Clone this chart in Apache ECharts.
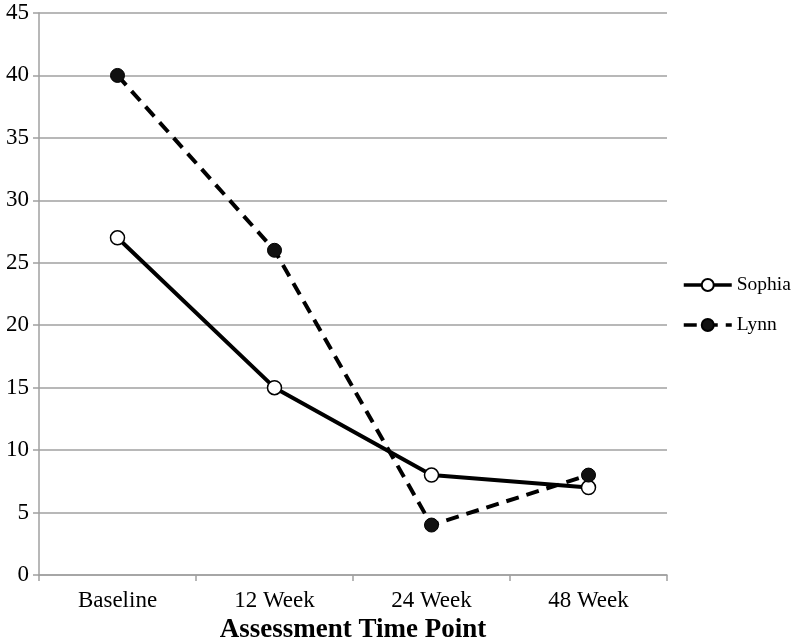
<!DOCTYPE html>
<html><head><meta charset="utf-8">
<script src="https://cdn.jsdelivr.net/npm/echarts@6/dist/echarts.min.js"></script>
<style>html,body{margin:0;padding:0;background:#fff}#c{width:795px;height:642px}</style>
</head><body><div id="c"></div>
<script>
var categories = ['Baseline', '12 Week', '24 Week', '48 Week'];
var sophia = [27, 15, 8, 7];
var lynn = [40, 26, 4, 8];
var yTicks = {min: 0, max: 45, interval: 5};

var chart = echarts.init(document.getElementById('c'));
var font = '"Liberation Serif", "Times New Roman", serif';
chart.setOption({
  animation: false,
  textStyle: {fontFamily: font},
  grid: {left: 39, right: 128, top: 13, bottom: 67, containLabel: false, outerBoundsMode: 'none'},
  legend: {
    orient: 'vertical', left: 682, top: 275, itemGap: 20, padding: 0,
    itemWidth: 48, itemHeight: 15,
    lineStyle: {width: 3.5},
    textStyle: {fontFamily: font, fontSize: 19.5, color: '#000'},
    data: ['Sophia', 'Lynn']
  },
  xAxis: {
    type: 'category', data: categories, boundaryGap: true,
    name: 'Assessment Time Point', nameLocation: 'middle', nameGap: 42,
    nameTextStyle: {fontFamily: font, fontSize: 27, fontWeight: 'bold', color: '#000'},
    axisLine: {lineStyle: {color: '#a0a0a0', width: 1.5}},
    axisTick: {show: true, length: 6, lineStyle: {color: '#a0a0a0', width: 1.5}},
    axisLabel: {fontFamily: font, fontSize: 23, color: '#000', margin: 14}
  },
  yAxis: {
    type: 'value', min: yTicks.min, max: yTicks.max, interval: yTicks.interval,
    axisLine: {show: true, lineStyle: {color: '#a0a0a0', width: 1.5}},
    axisTick: {show: true, length: 6, lineStyle: {color: '#a0a0a0', width: 1.5}},
    splitLine: {lineStyle: {color: '#a0a0a0', width: 1.5}},
    axisLabel: {fontFamily: font, fontSize: 23, color: '#000', margin: 10}
  },
  series: [
    {
      name: 'Sophia', type: 'line', data: sophia,
      symbol: 'circle', symbolSize: 14,
      lineStyle: {color: '#000', width: 4, type: 'solid'},
      itemStyle: {color: '#fff', borderColor: '#000', borderWidth: 1.5}
    },
    {
      name: 'Lynn', type: 'line', data: lynn,
      symbol: 'circle', symbolSize: 14,
      lineStyle: {color: '#000', width: 4, type: [13, 8]},
      itemStyle: {color: '#111', borderColor: '#000', borderWidth: 1}
    }
  ]
});
</script></body></html>
